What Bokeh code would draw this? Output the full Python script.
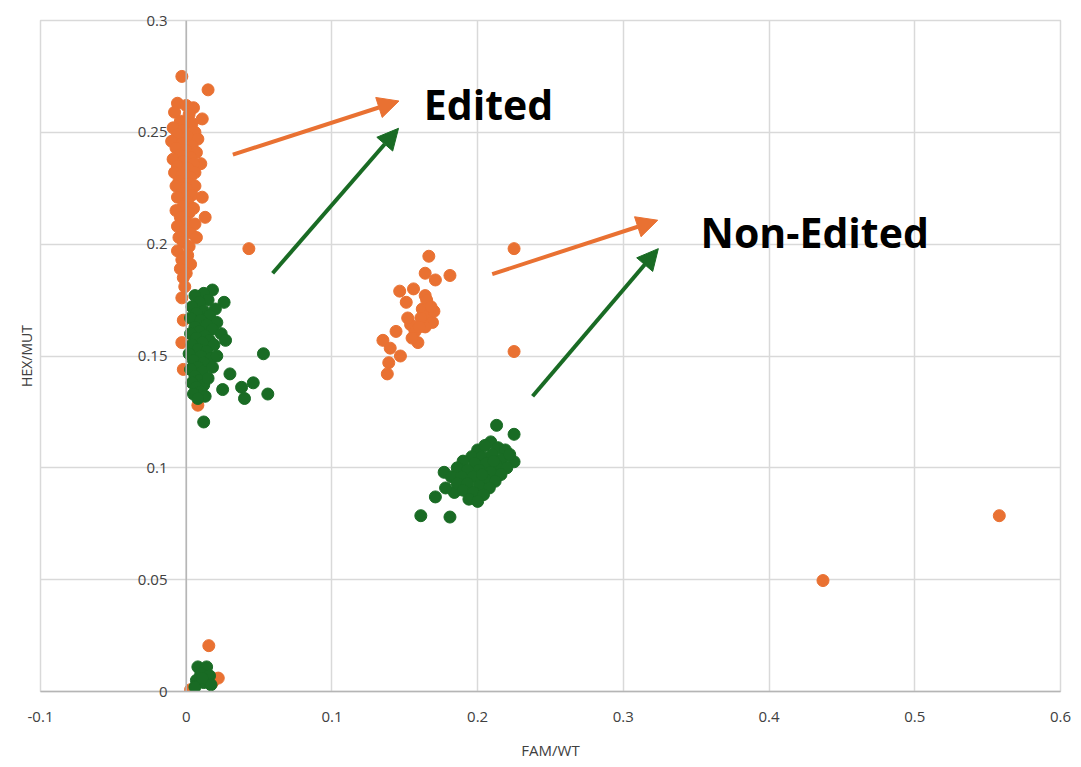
from bokeh.plotting import figure
from bokeh.models import (FixedTicker, Range1d, Title, Span,
                          Arrow, NormalHead, Label)
from bokeh.embed import file_html
from bokeh.resources import INLINE

# ---------------- data ----------------
orange_x = [
    -0.003, 0.015, -0.006, 0.000, 0.005, -0.008, 0.002, 0.011, -0.004, 0.004,
    -0.009, -0.002, 0.006, -0.006, 0.001, 0.008, -0.010, -0.003, 0.004, -0.007,
    0.000, 0.007, -0.004, 0.003, -0.009, 0.010, -0.002, 0.005, -0.006, 0.001,
    -0.008, 0.006, -0.003, 0.003, -0.005, 0.002, -0.007, 0.006, 0.000, -0.003,
    0.004, 0.011, -0.006, 0.001, -0.002, 0.005, -0.007, 0.002, 0.013, -0.004,
    0.000, 0.006, -0.006, -0.001, 0.003, -0.005, 0.007, -0.002, 0.002, -0.006,
    0.001, -0.003, 0.003, -0.004, 0.000, -0.002, 0.043, -0.003, -0.003, -0.002,
    0.008, -0.001, -0.002,
    0.1665, 0.164, 0.181, 0.171, 0.1465, 0.156, 0.151, 0.164, 0.162, 0.166,
    0.169, 0.164, 0.154, 0.157, 0.144, 0.159, 0.135, 0.140, 0.147, 0.139,
    0.138, 0.152, 0.161, 0.170, 0.165, 0.160, 0.168, 0.155,
    0.225, 0.225,
    0.0155, 0.003, 0.022, 0.018,
    0.437, 0.558,
]
orange_y = [
    0.275, 0.269, 0.263, 0.262, 0.261, 0.259, 0.258, 0.256, 0.255, 0.254,
    0.252, 0.251, 0.250, 0.249, 0.248, 0.247, 0.246, 0.245, 0.244, 0.243,
    0.242, 0.241, 0.240, 0.239, 0.238, 0.236, 0.237, 0.236, 0.235, 0.234,
    0.232, 0.232, 0.231, 0.230, 0.228, 0.227, 0.226, 0.226, 0.225, 0.223,
    0.222, 0.221, 0.221, 0.219, 0.217, 0.216, 0.215, 0.214, 0.212, 0.212,
    0.210, 0.209, 0.208, 0.206, 0.205, 0.203, 0.203, 0.201, 0.199, 0.197,
    0.195, 0.193, 0.191, 0.189, 0.187, 0.185, 0.198, 0.176, 0.156, 0.144,
    0.128, 0.181, 0.166,
    0.1946, 0.187, 0.186, 0.184, 0.179, 0.180, 0.174, 0.177, 0.171, 0.168,
    0.165, 0.163, 0.164, 0.161, 0.161, 0.156, 0.157, 0.1535, 0.150, 0.147,
    0.142, 0.167, 0.167, 0.170, 0.175, 0.163, 0.172, 0.158,
    0.198, 0.152,
    0.0205, 0.0008, 0.006, 0.004,
    0.0496, 0.0786,
]

green_x = [
    0.018, 0.012, 0.006, 0.026, 0.015, 0.009, 0.004, 0.020, 0.012, 0.007,
    0.016, 0.003, 0.010, 0.021, 0.014, 0.006, 0.018, 0.009, 0.003, 0.013,
    0.024, 0.007, 0.016, 0.027, 0.011, 0.004, 0.019, 0.008, 0.014, 0.002,
    0.010, 0.017, 0.005, 0.012, 0.008, 0.003, 0.011, 0.006, 0.009, 0.004,
    0.012, 0.007, 0.010, 0.005, 0.013, 0.008, 0.053, 0.030, 0.025, 0.038,
    0.046, 0.040, 0.056, 0.012, 0.021, 0.015, 0.018,
    0.213, 0.225, 0.209, 0.225, 0.177, 0.171, 0.161, 0.181, 0.184,
    0.200, 0.205, 0.214, 0.219, 0.196, 0.203, 0.210, 0.217, 0.190, 0.198,
    0.206, 0.213, 0.220, 0.186, 0.193, 0.201, 0.209, 0.216, 0.182, 0.189,
    0.197, 0.205, 0.212, 0.186, 0.193, 0.201, 0.208, 0.190, 0.197, 0.204,
    0.194, 0.200, 0.178, 0.222, 0.211, 0.203,
    0.008, 0.014, 0.010, 0.016, 0.007, 0.012, 0.006, 0.017, 0.011,
]
green_y = [
    0.1795, 0.178, 0.177, 0.174, 0.175, 0.174, 0.172, 0.171, 0.170, 0.169,
    0.168, 0.167, 0.166, 0.165, 0.164, 0.163, 0.162, 0.161, 0.160, 0.159,
    0.160, 0.158, 0.157, 0.157, 0.156, 0.155, 0.155, 0.153, 0.152, 0.151,
    0.150, 0.149, 0.148, 0.147, 0.145, 0.144, 0.143, 0.141, 0.139, 0.138,
    0.137, 0.136, 0.134, 0.133, 0.132, 0.131, 0.151, 0.142, 0.135, 0.136,
    0.138, 0.131, 0.133, 0.1205, 0.150, 0.140, 0.145,
    0.119, 0.115, 0.1116, 0.1027, 0.098, 0.087, 0.0786, 0.078, 0.089,
    0.108, 0.110, 0.109, 0.108, 0.105, 0.105, 0.106, 0.104, 0.103, 0.102,
    0.102, 0.101, 0.100, 0.100, 0.099, 0.099, 0.098, 0.097, 0.096, 0.096,
    0.096, 0.095, 0.094, 0.093, 0.093, 0.092, 0.091, 0.090, 0.089, 0.088,
    0.086, 0.085, 0.091, 0.106, 0.103, 0.097,
    0.011, 0.011, 0.008, 0.007, 0.005, 0.004, 0.002, 0.003, 0.006,
]

x_ticks = [-0.1, 0.0, 0.1, 0.2, 0.3, 0.4, 0.5, 0.6]
x_tick_labels = ["-0.1", "0", "0.1", "0.2", "0.3", "0.4", "0.5", "0.6"]
y_ticks = [0.0, 0.05, 0.1, 0.15, 0.2, 0.25, 0.3]
y_tick_labels = ["0", "0.05", "0.1", "0.15", "0.2", "0.25", "0.3"]
y_axis_crossing = 0.0

x_title = "FAM/WT"
y_title = "HEX/MUT"

# annotation arrows
arrow_colors = ["orange", "green", "orange", "green"]
arrow_x_start = [0.032, 0.0593, 0.210, 0.2377]
arrow_y_start = [0.240, 0.187, 0.1866, 0.132]
arrow_x_end = [0.146, 0.1457, 0.3236, 0.324]
arrow_y_end = [0.264, 0.2518, 0.2107, 0.198]

note_texts = ["Edited", "Non-Edited"]
note_x = [0.163, 0.353]
note_y = [0.2625, 0.2054]

ORANGE = "#E97132"
GREEN = "#196B24"
colors = {"orange": ORANGE, "green": GREEN}
TXT = "#404040"

W, H = 1073, 763
LEFT, RIGHT, TOP, BOTTOM = 40, 13, 20, 72
X0, X1 = -0.1, 0.6

# ---------------- figure ----------------
p = figure(width=W, height=H, output_backend="svg", toolbar_location=None,
           x_range=Range1d(X0, X1), y_range=Range1d(0, 0.3),
           min_border_left=LEFT, min_border_right=RIGHT, min_border_top=TOP,
           min_border_bottom=BOTTOM)
p.background_fill_color = "white"
p.border_fill_color = "white"
p.outline_line_color = "#d9d9d9"
p.outline_line_width = 1.5

# x axis (below)
xa = p.xaxis[0]
xa.ticker = FixedTicker(ticks=x_ticks)
xa.major_label_overrides = dict(zip(x_ticks, x_tick_labels))
xa.major_tick_out = 0
xa.major_tick_in = 0
xa.minor_tick_out = 0
xa.minor_tick_in = 0
xa.major_label_standoff = 20
xa.axis_line_color = "#b5b5b5"
xa.axis_line_width = 1.5
xa.major_label_text_font = "Open Sans"
xa.major_label_text_font_size = "15px"
xa.major_label_text_color = TXT
xa.axis_label = x_title
xa.axis_label_text_font = "Open Sans"
xa.axis_label_text_font_style = "normal"
xa.axis_label_text_font_size = "15px"
xa.axis_label_text_color = TXT
xa.axis_label_standoff = 15

# y axis: labels shown next to the vertical line at x = 0
frame_w = W - LEFT - RIGHT
px_to_zero = frame_w * (y_axis_crossing - X0) / (X1 - X0)
ya = p.yaxis[0]
ya.ticker = FixedTicker(ticks=y_ticks)
ya.major_label_overrides = dict(zip(y_ticks, y_tick_labels))
ya.major_tick_out = 0
ya.major_tick_in = 0
ya.minor_tick_out = 0
ya.minor_tick_in = 0
ya.major_label_standoff = -int(round(px_to_zero - 19))
ya.axis_line_color = None
ya.major_label_text_font = "Open Sans"
ya.major_label_text_font_size = "15px"
ya.major_label_text_color = TXT
try:
    ya.major_label_background_fill_color = "white"
except AttributeError:
    pass

p.add_layout(Title(text=y_title, align="center", text_font="Open Sans",
                   text_font_style="normal", text_font_size="14px",
                   text_color=TXT), "left")

# grid
p.xgrid.ticker = FixedTicker(ticks=x_ticks)
p.ygrid.ticker = FixedTicker(ticks=y_ticks)
for g in (p.xgrid[0], p.ygrid[0]):
    g.grid_line_color = "#d9d9d9"
    g.grid_line_width = 1.5

# vertical value axis line crossing at x = 0
p.add_layout(Span(location=y_axis_crossing, dimension="height",
                  line_color="#b5b5b5", line_width=1.5))

# points
p.scatter(orange_x, orange_y, size=12, fill_color=ORANGE, line_color=ORANGE)
p.scatter(green_x, green_y, size=12, fill_color=GREEN, line_color=GREEN)

# arrows
for c, xs, ys, xe, ye in zip(arrow_colors, arrow_x_start, arrow_y_start,
                             arrow_x_end, arrow_y_end):
    col = colors[c]
    p.add_layout(Arrow(x_start=xs, y_start=ys, x_end=xe, y_end=ye,
                       line_color=col, line_width=4,
                       end=NormalHead(size=21, fill_color=col, line_color=col)))

# notes
for t, x, y in zip(note_texts, note_x, note_y):
    p.add_layout(Label(x=x, y=y, text=t, text_font="Open Sans",
                       text_font_style="bold", text_font_size="41px",
                       text_color="black", text_baseline="middle",
                       text_align="left"))

open("out.html", "w").write(file_html(p, INLINE))
